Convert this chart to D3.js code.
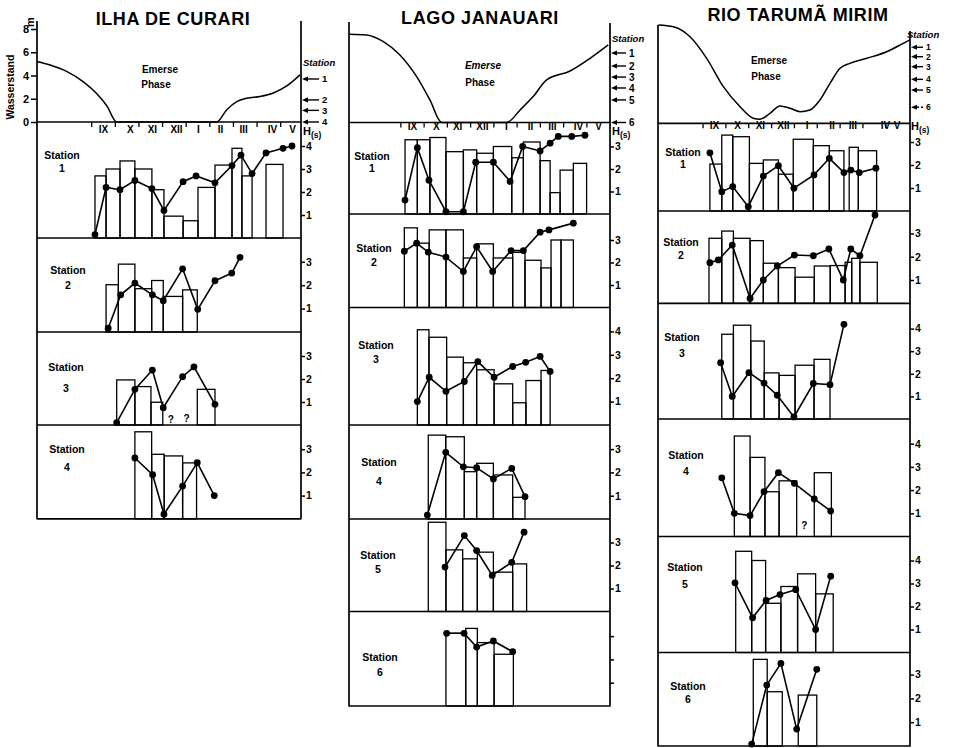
<!DOCTYPE html>
<html><head><meta charset="utf-8">
<script src="https://cdn.jsdelivr.net/npm/d3@7"></script>
<style>
body{margin:0;background:#fff}
svg text{font-family:"Liberation Sans",Arial,sans-serif;font-weight:bold;fill:#000}
</style></head>
<body><svg id="c" width="953" height="748"></svg>
<script>
// ---------- DATA (months: IX centre = 9.5 ... V centre = 17.5; water level in m; H(s) values) ----------
const monthLabels = ["IX","X","XI","XII","I","II","III","IV","V"];
const curariMonthPos = [9.5,10.64,11.57,12.59,13.52,14.45,15.43,16.65,17.5];
const janMonthPos = [9.5,10.53,11.44,12.51,13.54,14.58,15.52,16.64,17.5];
const tarMonthPos = [9.5,10.51,11.51,12.52,13.56,14.65,15.56,16.99,17.5];
const minorTicks = [9,10,11,12,13,14,15,16,17];

const curariHydro = [[6.71,5.2],[7.26,4.9],[7.96,4.35],[8.67,3.45],[9.23,2.45],[9.66,1.4],[10.08,0],[14.31,0],[14.74,1.05],[15.16,1.75],[15.58,2.05],[16.15,2.2],[16.71,2.5],[17.28,3.1],[17.84,4.05]];
const janHydro = [[6.83,7.59],[7.55,7.53],[8.27,6.95],[8.98,5.8],[9.70,3.94],[10.27,1.94],[10.78,0],[13.57,0],[14.15,1.08],[14.72,2.25],[15.29,3.66],[16.30,4.43],[17.16,5.52],[17.94,6.67]];
const tarHydro = [[7.06,8.46],[7.72,8.31],[8.45,7.45],[9.18,5.59],[9.91,3.15],[10.64,1.43],[11.22,0.43],[11.51,0.34],[11.95,0.86],[12.39,1.49],[12.83,1.29],[13.27,1.0],[13.70,1.14],[14.14,2.0],[14.58,3.44],[15.02,4.73],[15.45,5.16],[16.19,5.59],[17.06,6.16],[17.79,6.88],[18.08,7.17]];

const curariLevels = [3.7,1.9,1.0,0];
const janLevels = [5.98,4.86,3.91,2.97,1.94,0];
const tarLevels = [6.54,5.73,4.87,3.78,2.86,1.38];

// Ilha de Curari
const curariS1Edges = [9.16,9.63,10.22,10.85,11.57,12.08,12.89,13.52,14.24,14.96,15.38,15.81,16.40,17.12];
const curariS1Bars = [2.7,3.0,3.35,3.0,2.1,0.95,0.75,2.2,3.17,3.9,2.7,null,3.2];
const curariS1Pts = [[9.16,0.15],[9.63,2.2],[10.22,2.1],[10.85,2.5],[11.57,2.15],[12.08,1.2],[12.89,2.45],[13.44,2.7],[14.24,2.4],[14.96,3.15],[15.34,3.6],[15.81,2.8],[16.40,3.7],[17.12,3.9],[17.50,4.0]];
const curariS2Edges = [9.63,10.15,10.85,11.56,12.05,12.87,13.49];
const curariS2Bars = [2.02,2.9,1.85,2.2,1.52,1.8];
const curariS2Pts = [[9.72,0.16],[10.25,1.59],[10.85,2.09],[11.59,1.59],[12.05,1.34],[12.87,2.7],[13.51,0.97],[14.24,2.19],[14.95,2.52],[15.30,3.19]];
const curariS3Edges = [10.08,10.85,11.53,12.03,13.49,14.24];
const curariS3Bars = [1.96,1.67,0.99,null,1.55];
const curariS3Pts = [[10.08,0.1],[10.85,1.55],[11.59,2.39],[12.05,0.75],[12.87,2.1],[13.35,2.53],[14.24,0.9]];
const curariS3Q = [[12.37,0.1],[13.04,0.15]];
const curariS4Edges = [10.85,11.56,12.09,12.87,13.46];
const curariS4Bars = [3.75,2.78,2.71,2.41];
const curariS4Pts = [[10.85,2.62],[11.60,1.9],[12.08,0.2],[12.87,1.41],[13.49,2.42],[14.21,1.0]];

// Lago Janauari
const janS1Edges = [9.20,9.73,10.27,10.96,11.71,12.28,13.00,13.79,14.29,15.01,15.44,15.87,16.44,17.01];
const janS1Bars = [3.3,3.3,3.4,2.77,2.85,2.7,3.0,2.5,3.2,2.37,0.95,1.95,2.25];
const janS1Pts = [[9.20,0.62],[9.73,2.95],[10.23,1.5],[10.96,0.1],[11.71,0.1],[12.24,2.3],[13.00,2.3],[13.72,1.45],[14.26,3.0],[15.01,2.8],[15.44,3.15],[15.79,3.45],[16.37,3.45],[16.94,3.5]];
const janS2Edges = [9.17,9.73,10.24,10.96,11.71,12.28,13.00,13.83,14.36,15.05,15.48,15.91,16.44];
const janS2Bars = [3.54,2.86,3.45,3.45,2.2,2.83,2.2,2.45,2.1,1.76,3.0,3.0];
const janS2Pts = [[9.17,2.5],[9.70,2.86],[10.20,2.46],[10.96,2.24],[11.71,1.6],[12.28,2.7],[12.97,1.6],[13.76,2.53],[14.29,2.53],[15.01,3.35],[15.39,3.45],[16.44,3.75]];
const janS3Edges = [9.73,10.23,10.99,11.71,12.28,13.03,13.83,14.40,15.05,15.44];
const janS3Bars = [4.07,3.75,2.9,2.66,2.36,1.76,0.95,1.9,2.33];
const janS3Pts = [[9.73,1.0],[10.24,2.04],[10.96,1.44],[11.75,1.86],[12.33,2.71],[13.03,2.04],[13.83,2.5],[14.39,2.68],[15.01,2.93],[15.44,2.29]];
const janS4Edges = [10.20,10.95,11.75,12.28,13.00,13.83,14.36];
const janS4Bars = [3.6,3.53,2.03,2.39,1.89,0.93];
const janS4Pts = [[10.16,0.17],[10.95,2.86],[11.71,2.24],[12.28,2.2],[13.00,1.72],[13.79,2.17],[14.36,0.96]];
const janS5Edges = [10.20,10.96,11.68,12.31,13.00,13.83,14.43];
const janS5Bars = [3.88,2.68,2.29,2.58,1.71,2.07];
const janS5Pts = [[10.92,1.93],[11.75,3.3],[12.28,2.65],[12.95,1.57],[13.79,2.14],[14.32,3.45]];
const janS6Edges = [10.96,11.81,12.31,13.03,13.86];
const janS6Bars = [3.12,3.33,2.72,2.22];
const janS6Pts = [[10.99,3.12],[11.74,3.12],[12.28,2.53],[13.00,2.79],[13.83,2.33]];

// Rio Taruma Mirim
const tarS1Edges = [9.32,9.84,10.32,11.05,11.66,12.32,12.97,13.85,14.55,15.19,15.42,15.82,16.62];
const tarS1Bars = [2.04,3.3,3.23,2.07,2.22,1.6,3.12,2.84,2.62,null,2.77,2.62];
const tarS1Pts = [[9.32,2.53],[9.84,0.84],[10.32,1.06],[11.00,0.19],[11.66,1.52],[12.32,1.97],[13.00,0.99],[13.88,1.57],[14.55,2.29],[15.19,1.67],[15.49,1.78],[15.86,1.67],[16.59,1.86]];
const tarS2Edges = [9.28,9.84,10.35,11.08,11.66,12.32,13.05,13.89,14.59,15.24,15.53,15.89,16.65];
const tarS2Bars = [2.79,3.1,2.79,2.69,1.72,1.53,1.12,1.6,1.62,1.76,1.93,1.76];
const tarS2Pts = [[9.32,1.74],[9.69,1.86],[10.30,2.5],[11.08,0.21],[11.66,1.0],[12.27,1.6],[13.02,2.07],[13.85,2.04],[14.53,2.33],[15.16,1.0],[15.49,2.33],[15.89,2.04],[16.55,3.79]];
const tarS3Edges = [9.84,10.35,11.11,11.70,12.35,13.05,13.88,14.58];
const tarS3Bars = [3.75,4.15,3.45,2.04,1.93,2.38,2.64];
const tarS3Pts = [[9.79,2.49],[10.30,1.0],[11.03,2.05],[11.69,1.59],[12.27,1.05],[13.00,0.09],[13.85,1.57],[14.58,1.52],[15.19,4.19]];
const tarS4Edges = [10.39,11.08,11.73,12.35,13.12,13.89,14.64];
const tarS4Bars = [4.33,3.41,1.93,2.4,null,2.75];
const tarS4Pts = [[9.84,2.53],[10.39,1.0],[11.08,0.9],[11.69,1.93],[12.32,2.75],[13.02,2.29],[13.89,1.62],[14.61,1.1]];
const tarS4Q = [[13.45,0.32]];
const tarS5Edges = [10.45,11.15,11.76,12.43,13.16,13.95,14.72];
const tarS5Bars = [4.4,4.0,2.14,2.87,3.42,2.55];
const tarS5Pts = [[10.42,3.03],[11.19,1.51],[11.78,2.26],[12.39,2.52],[13.08,2.73],[13.95,1.0],[14.61,3.32]];
const tarS6Edges = [11.22,11.83,12.49,13.19,14.00];
const tarS6Bars = [3.64,2.28,null,2.14];
const tarS6Pts = [[11.15,0.08],[11.81,2.56],[12.43,3.47],[13.12,0.71],[14.00,3.22]];

const curariTicks = [4,3,3,3];
const janTicks = [3,3,4,3,3,3];
const tarTicks = [3,3,4,4,4,3];

// ---------- LAYOUT ----------
const st = (edges,bars,pts,q,bottom,unit,ticks,labelled,lx,ly,ny) => ({edges,bars,pts,q,bottom,unit,ticks,labelled,lx,ly,ny});
const cols = [
 {title:"ILHA DE CURARI", L:37, R:301, axTopL:21, axTopR:21, zero:122, ix:103, v:292, tX:173, tY:25, tSize:18,
  monthPos:curariMonthPos, monthY:135, hydro:curariHydro, levels:curariLevels,
  stX:303, stY:66, numDx:21, numSize:9.5, italicEm:false, em:[160,73,156,88], hs:[303,135],
  stations:[
   st(curariS1Edges,curariS1Bars,curariS1Pts,[],238,23,curariTicks[0],true,62,159,172),
   st(curariS2Edges,curariS2Bars,curariS2Pts,[],332,23.4,curariTicks[1],true,68,274,289),
   st(curariS3Edges,curariS3Bars,curariS3Pts,curariS3Q,425,23,curariTicks[2],true,66,371,392),
   st(curariS4Edges,curariS4Bars,curariS4Pts,[],518.8,23.2,curariTicks[3],true,67,453,471)]},
 {title:"LAGO  JANAUARI", L:349, R:610, axTopL:22, axTopR:23, zero:122.5, ix:412, v:598, tX:480, tY:24, tSize:18,
  monthPos:janMonthPos, monthY:132, hydro:janHydro, levels:janLevels,
  stX:612, stY:42, numDx:19, numSize:10, italicEm:true, em:[483,69,480,86], hs:[612,135],
  stations:[
   st(janS1Edges,janS1Bars,janS1Pts,[],214,22.5,janTicks[0],true,372,160,172),
   st(janS2Edges,janS2Bars,janS2Pts,[],307.5,22.5,janTicks[1],true,374,252,266),
   st(janS3Edges,janS3Bars,janS3Pts,[],425,23.4,janTicks[2],true,376,349,363),
   st(janS4Edges,janS4Bars,janS4Pts,[],519,23.3,janTicks[3],true,379,466,485),
   st(janS5Edges,janS5Bars,janS5Pts,[],611.5,23,janTicks[4],true,378,559,573),
   st(janS6Edges,janS6Bars,janS6Pts,[],706,23.3,janTicks[5],false,380,661,676)]},
 {title:"RIO  TARUMÃ  MIRIM", L:658, R:910, axTopL:25, axTopR:31, zero:123.3, ix:714, v:896.7, tX:798, tY:21, tSize:18,
  monthPos:tarMonthPos, monthY:131, hydro:tarHydro, levels:tarLevels,
  stX:907, stY:38, numDx:16, numSize:8.5, italicEm:false, em:[769,64,766,80], hs:[911,130],
  stations:[
   st(tarS1Edges,tarS1Bars,tarS1Pts,[],211,23,tarTicks[0],true,683,156,168),
   st(tarS2Edges,tarS2Bars,tarS2Pts,[],303.3,23.3,tarTicks[1],true,681,246,259),
   st(tarS3Edges,tarS3Bars,tarS3Pts,[],419,22.6,tarTicks[2],true,682,341,357),
   st(tarS4Edges,tarS4Bars,tarS4Pts,tarS4Q,536.5,23.2,tarTicks[3],true,686,459,475),
   st(tarS5Edges,tarS5Bars,tarS5Pts,[],652.5,23,tarTicks[4],true,685,571,588),
   st(tarS6Edges,tarS6Bars,tarS6Pts,[],746,23.8,tarTicks[5],true,688,690,703)]}
];

const svg = d3.select("#c");
const FONT = '"Liberation Sans",Arial,sans-serif';
function styleAxis(g, size){
  g.select(".domain").remove();
  g.attr("font-family",FONT).attr("font-weight","bold").attr("font-size",size);
  g.selectAll("line").attr("stroke","#000").attr("stroke-width",1.5);
}
function seg(g,x1,y1,x2,y2,w){
  g.append("line").attr("x1",x1).attr("y1",y1).attr("x2",x2).attr("y2",y2)
   .attr("stroke","#000").attr("stroke-width",w||1.7);
}

cols.forEach((c,ci) => {
  const g = svg.append("g");
  const x = d3.scaleLinear().domain([9.5,17.5]).range([c.ix, c.v]);
  const yh = d3.scaleLinear().domain([0,8]).range([c.zero, c.zero - 8*11.625]);
  const lastBottom = c.stations[c.stations.length-1].bottom;

  g.append("text").attr("x",c.tX).attr("y",c.tY).attr("text-anchor","middle")
   .attr("font-size",c.tSize).attr("letter-spacing",0.6).text(c.title);

  // frame
  seg(g,c.L,c.axTopL,c.L,lastBottom+0.5);
  seg(g,c.R,c.axTopR,c.R,lastBottom+0.5);
  seg(g,c.L,c.zero,c.R,c.zero);

  // left metre axis (first column)
  if (ci === 0) {
    const ax = g.append("g").attr("transform",`translate(${c.L},0)`)
      .call(d3.axisLeft(yh).tickValues([0,2,4,6,8]).tickSize(6).tickPadding(2).tickFormat(d3.format("d")));
    styleAxis(ax, 11);
    g.append("text").attr("transform",`translate(${c.L-3},${yh(8.6)}) rotate(-90)`)
     .attr("text-anchor","middle").attr("font-size",11).text("m");
    g.append("text").attr("transform",`translate(14,${yh(3.0)}) rotate(-90)`)
     .attr("text-anchor","middle").attr("font-size",10.5).text("Wasserstand");
  }

  // hydrograph
  g.append("path").datum(c.hydro)
   .attr("d", d3.line().x(d=>x(d[0])).y(d=>yh(d[1])).curve(d3.curveMonotoneX))
   .attr("fill","none").attr("stroke","#000").attr("stroke-width",1.5);

  // emerse phase
  const e1 = g.append("text").attr("x",c.em[0]).attr("y",c.em[1]).attr("text-anchor","middle").attr("font-size",10).text("Emerse");
  if (c.italicEm) e1.attr("font-style","italic");
  g.append("text").attr("x",c.em[2]).attr("y",c.em[3]).attr("text-anchor","middle").attr("font-size",10).text("Phase");

  // station level arrows
  g.append("text").attr("x",c.stX).attr("y",c.stY).attr("font-size",9.5).attr("font-style","italic").text("Station");
  c.levels.forEach((lv,i) => {
    const yy = yh(lv);
    g.append("path").attr("d",`M${c.R+1},${yy}l6,-2.6l0,5.2z`).attr("fill","#000");
    const ln = g.append("line").attr("x1",c.R+6).attr("x2",c.R+c.numDx-3).attr("y1",yy).attr("y2",yy)
      .attr("stroke","#000").attr("stroke-width",1.4);
    if (ci===2 && i===5) ln.attr("stroke-dasharray","3,2");
    g.append("text").attr("x",c.R+c.numDx).attr("y",yy+c.numSize*0.36).attr("font-size",c.numSize).text(i+1);
  });

  // months
  const ma = g.append("g").attr("transform",`translate(0,${c.monthY-9})`)
    .call(d3.axisBottom(x).tickValues(c.monthPos).tickSize(0).tickPadding(0).tickFormat((d,i)=>monthLabels[i]));
  styleAxis(ma, 10);
  ma.selectAll("text").attr("dy","0.71em");
  const mt = g.append("g").attr("transform",`translate(0,${c.zero})`)
    .call(d3.axisBottom(x).tickValues(minorTicks).tickSize(5).tickFormat(""));
  styleAxis(mt, 10);
  mt.selectAll("line").attr("stroke-width",1.3);

  // H(s)
  const hs = g.append("text").attr("x",c.hs[0]).attr("y",c.hs[1]).attr("font-size",11).text("H");
  hs.append("tspan").attr("font-size",8.5).attr("dy",3).text("(s)");

  // station panels
  c.stations.forEach((s,si) => {
    const y = d3.scaleLinear().domain([0,1]).range([s.bottom, s.bottom - s.unit]);
    seg(g,c.L,s.bottom,c.R,s.bottom);
    s.bars.forEach((h,i) => {
      if (h === null) return;
      g.append("rect").attr("x",x(s.edges[i])).attr("y",y(h))
       .attr("width",x(s.edges[i+1])-x(s.edges[i])).attr("height",y(0)-y(h))
       .attr("fill","none").attr("stroke","#000").attr("stroke-width",1.3);
    });
    g.append("path").datum(s.pts)
     .attr("d", d3.line().x(d=>x(d[0])).y(d=>y(d[1])))
     .attr("fill","none").attr("stroke","#000").attr("stroke-width",1.6);
    g.selectAll(null).data(s.pts).join("circle")
     .attr("cx",d=>x(d[0])).attr("cy",d=>y(d[1])).attr("r",3.4).attr("fill","#000");
    s.q.forEach(d => g.append("text").attr("x",x(d[0])).attr("y",y(d[1])).attr("text-anchor","middle").attr("font-size",10).text("?"));
    const ta = g.append("g").attr("transform",`translate(${c.R},0)`)
      .call(d3.axisRight(y).tickValues(d3.range(1,s.ticks+1)).tickSize(4).tickPadding(1)
        .tickFormat(s.labelled ? d3.format("d") : ""));
    styleAxis(ta, 10.5);
    g.append("text").attr("x",s.lx).attr("y",s.ly).attr("text-anchor","middle").attr("font-size",10.5).text("Station");
    g.append("text").attr("x",s.lx).attr("y",s.ny).attr("text-anchor","middle").attr("font-size",10.5).text(si+1);
  });
});
</script></body></html>
